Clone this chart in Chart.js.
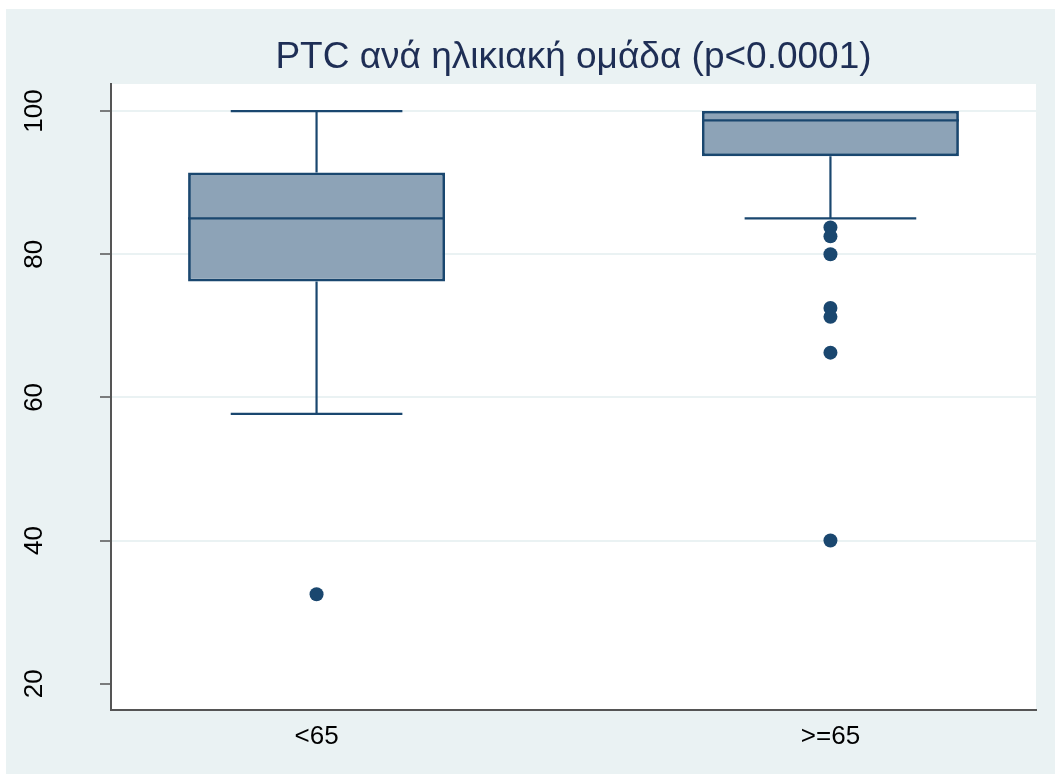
<!DOCTYPE html>
<html>
<head>
<meta charset="utf-8">
<script src="https://cdn.jsdelivr.net/npm/chart.js@4"></script>
<style>
  body { margin: 0; background: #ffffff; }
  #wrap { position: absolute; left: 6px; top: 9px; width: 1049px; height: 765px; }
</style>
</head>
<body>
<div id="wrap"><canvas id="chart"></canvas></div>
<script>
// box plot summary
const categories = ['<65', '>=65'];
const positions = [1, 2];
const whiskerLow = [57.7, 85.0];
const q1 = [76.2, 93.7];
const median = [85.0, 98.7];
const q3 = [91.4, 100.0];
const whiskerHigh = [100.0, 100.0];
const outliersUnder65 = [32.5];
const outliersOver65 = [83.75, 82.5, 80.0, 72.5, 71.25, 66.25, 40.0];
const yTicks = [20, 40, 60, 80, 100];

const navy = '#1a476f';
const boxHalf = 0.25;   // half of barPercentage
const capHalf = 0.167;

function gapped(build) {
    return positions.flatMap((p, i) => build(p, i).concat([{x: p, y: null}]));
}

const medianPoints = gapped((p, i) => [{x: p - boxHalf, y: median[i]}, {x: p + boxHalf, y: median[i]}]);
const upperWhisker = gapped((p, i) => [{x: p, y: q3[i]}, {x: p, y: whiskerHigh[i]}]);
const lowerWhisker = gapped((p, i) => [{x: p, y: q1[i]}, {x: p, y: whiskerLow[i]}]);
// a cap that sits on the box edge is hidden by the box, so skip it
const upperCaps = gapped((p, i) => whiskerHigh[i] > q3[i]
    ? [{x: p - capHalf, y: whiskerHigh[i]}, {x: p + capHalf, y: whiskerHigh[i]}] : []);
const lowerCaps = gapped((p, i) => whiskerLow[i] < q1[i]
    ? [{x: p - capHalf, y: whiskerLow[i]}, {x: p + capHalf, y: whiskerLow[i]}] : []);

function lineSet(data) {
    return {
        type: 'line',
        data: data,
        borderColor: navy,
        borderWidth: 2.2,
        pointRadius: 0,
        spanGaps: false,
        fill: false,
        order: 2
    };
}

const background = {
    id: 'background',
    beforeDraw(chart) {
        const ctx = chart.ctx;
        const a = chart.chartArea;
        ctx.save();
        ctx.fillStyle = '#eaf2f3';
        ctx.fillRect(0, 0, chart.width, chart.height);
        ctx.fillStyle = '#ffffff';
        ctx.fillRect(a.left, a.top, a.right - a.left, a.bottom - a.top);
        ctx.restore();
    }
};

const tickFont = {family: 'Liberation Sans, Arial, sans-serif', size: 26};

new Chart('chart', {
    type: 'bar',
    data: {
        datasets: [
            {
                type: 'bar',
                data: positions.map((p, i) => ({x: p, y: [q1[i], q3[i]]})),
                backgroundColor: '#8da3b7',
                borderColor: navy,
                borderWidth: 2.8,
                borderSkipped: false,
                barPercentage: 0.5,
                categoryPercentage: 1.0,
                order: 3
            },
            lineSet(medianPoints),
            lineSet(upperWhisker),
            lineSet(lowerWhisker),
            lineSet(upperCaps),
            lineSet(lowerCaps),
            {
                type: 'scatter',
                data: outliersUnder65.map(v => ({x: positions[0], y: v}))
                    .concat(outliersOver65.map(v => ({x: positions[1], y: v}))),
                backgroundColor: navy,
                borderWidth: 0,
                pointRadius: 7,
                order: 1
            }
        ]
    },
    options: {
        responsive: true,
        maintainAspectRatio: false,
        animation: false,
        layout: {
            padding: {left: 0, top: 0, right: 19, bottom: 11}
        },
        scales: {
            x: {
                type: 'linear',
                offset: false,
                min: 0.6,
                max: 2.4,
                afterBuildTicks: (scale) => {
                    scale.ticks = positions.map(p => ({value: p}));
                },
                ticks: {
                    callback: (value) => categories[positions.indexOf(value)],
                    color: '#000',
                    font: tickFont,
                    padding: 11,
                    maxRotation: 0
                },
                grid: {
                    display: false,
                    drawTicks: false,
                    offset: false
                },
                border: {
                    color: '#555',
                    width: 2
                }
            },
            y: {
                type: 'linear',
                min: 16.36,
                max: 103.78,
                afterBuildTicks: (scale) => {
                    scale.ticks = yTicks.map(v => ({value: v}));
                },
                afterFit: (scale) => {
                    scale.width = 105;
                    scale.paddingTop = 0;
                    scale.paddingBottom = 0;
                },
                ticks: {
                    color: '#000',
                    font: tickFont,
                    minRotation: 90,
                    maxRotation: 90,
                    crossAlign: 'center',
                    padding: 43
                },
                grid: {
                    color: (ctx) => (ctx.tick && ctx.tick.value === 20) ? 'rgba(0,0,0,0)' : '#eaf2f3',
                    lineWidth: 2,
                    tickColor: '#555',
                    tickWidth: 1.5,
                    tickLength: 11
                },
                border: {
                    color: '#555',
                    width: 2
                }
            }
        },
        plugins: {
            legend: {
                display: false
            },
            tooltip: {
                enabled: false
            },
            title: {
                display: true,
                fullSize: false,
                text: 'PTC ανά ηλικιακή ομάδα (p<0.0001)',
                color: '#1e2e55',
                font: {
                    family: 'Liberation Sans, Arial, sans-serif',
                    size: 37,
                    weight: 'normal'
                },
                padding: {top: 27, bottom: 3.6}
            }
        }
    },
    plugins: [background]
});
</script>
</body>
</html>
